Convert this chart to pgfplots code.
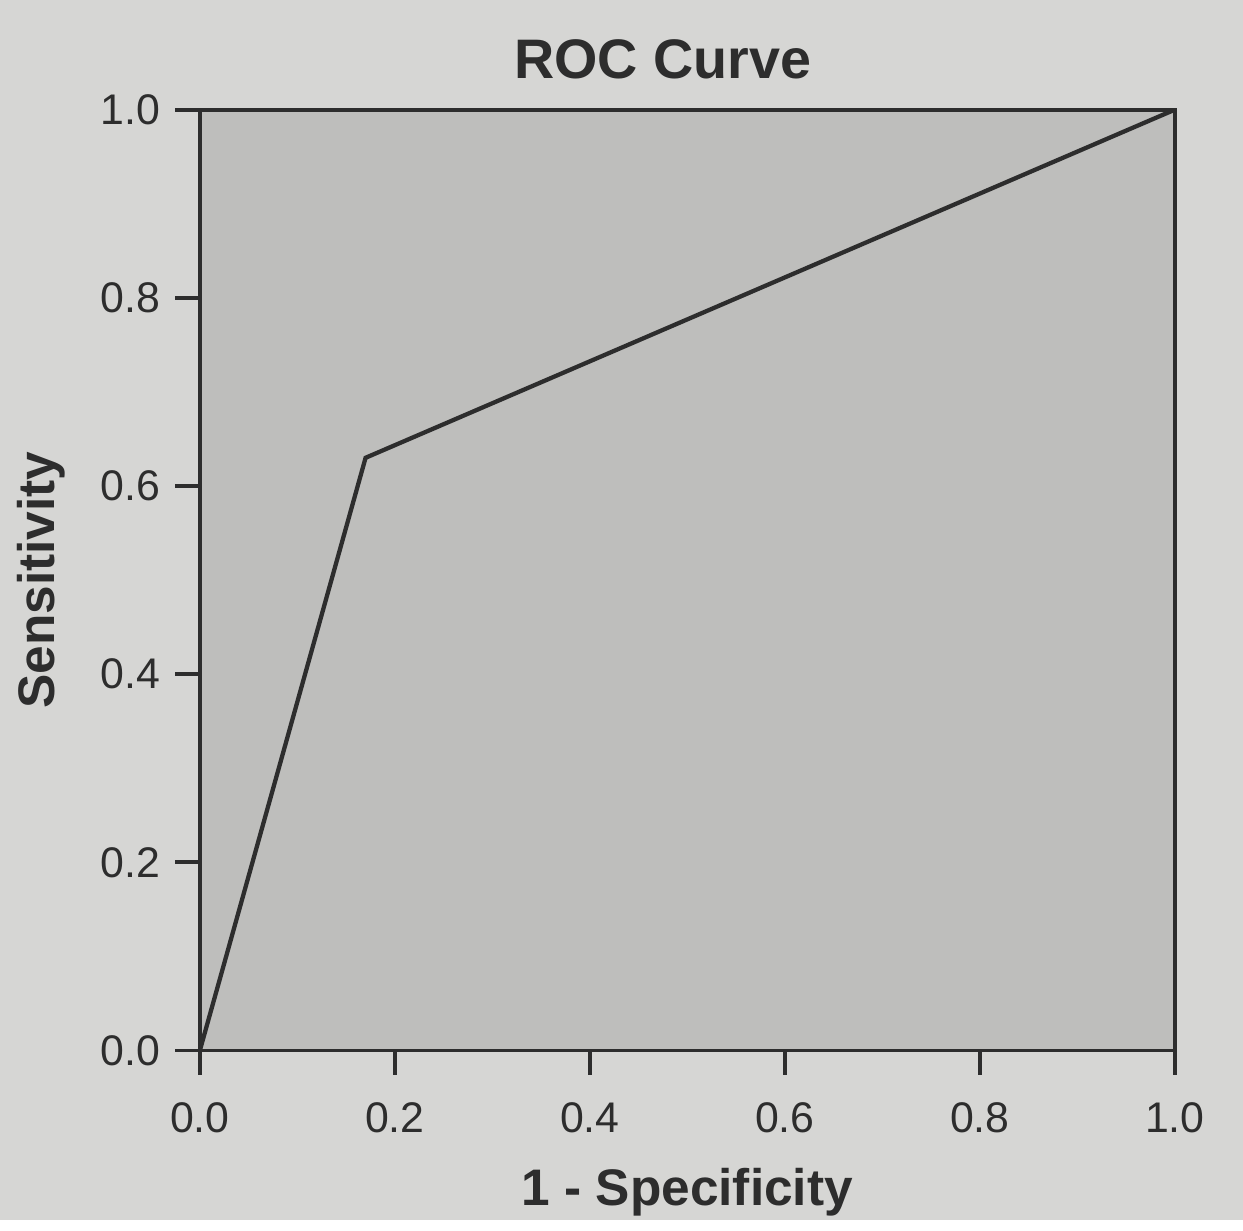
\documentclass[border=0pt]{standalone}
\usepackage{pgfplots}
\pgfplotsset{compat=1.18}
\usepackage{fontspec}
\setmainfont{Liberation Sans}
\usetikzlibrary{backgrounds}
\definecolor{paper}{RGB}{214,214,212}
\definecolor{shade}{RGB}{190,190,188}
\definecolor{ink}{RGB}{45,45,45}

\begin{document}
\begin{tikzpicture}
\begin{axis}[
  scale only axis,
  width=8cm, height=7.72cm,
  xmin=0, xmax=1, ymin=0, ymax=1,
  axis background/.style={fill=shade},
  axis line style={ink, line width=0.9pt},
  xtick={0,0.2,0.4,0.6,0.8,1},
  ytick={0,0.2,0.4,0.6,0.8,1},
  tick pos=left,
  tick align=outside,
  major tick length=0.2cm,
  tick style={ink, line width=0.9pt},
  xticklabel style={/pgf/number format/.cd, fixed, fixed zerofill, precision=1},
  yticklabel style={/pgf/number format/.cd, fixed, fixed zerofill, precision=1},
  /pgf/number format/assume math mode=true,
  tick label style={font=\fontsize{10}{12}\selectfont, text=ink},
  xticklabel shift=0.1cm,
  title={\textbf{ROC Curve}},
  title style={font=\fontsize{13}{15}\selectfont, text=ink, yshift=-0.08cm, xshift=-0.2cm},
  xlabel={\textbf{1 - Specificity}},
  ylabel={\textbf{Sensitivity}},
  label style={font=\fontsize{12}{14}\selectfont, text=ink},
  xlabel style={yshift=-0.05cm},
  ylabel style={yshift=0.05cm},
]
  \addplot[ink, line width=1pt] coordinates {
    (0,0) (0.17,0.63) (1,1)
  };
\end{axis}
\begin{pgfonlayer}{background}
  \fill[paper] ([shift={(-1.64cm,-1.39cm)}]current axis.south west)
    rectangle ++(10.2cm,10.01cm);
\end{pgfonlayer}
\path[use as bounding box] ([shift={(-1.64cm,-1.39cm)}]current axis.south west)
    rectangle ++(10.2cm,10.01cm);
\end{tikzpicture}
\end{document}
